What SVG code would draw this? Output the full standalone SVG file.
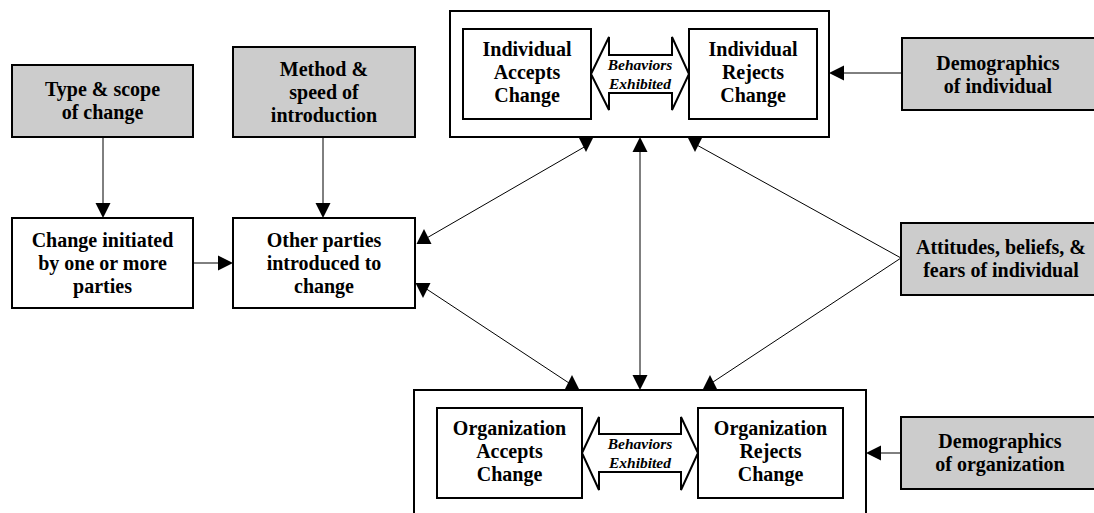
<svg xmlns="http://www.w3.org/2000/svg" xmlns:xlink="http://www.w3.org/1999/xlink" width="1094" height="513" viewBox="0 0 1094 513">
<style>
.box{fill:#ffffff;stroke:#000;stroke-width:2}
.gbox{fill:#cccccc;stroke:#000;stroke-width:2}
.dbl{fill:#ffffff;stroke:#000;stroke-width:2;stroke-linejoin:miter}
.t{font-family:"Liberation Serif","Times New Roman",serif;font-weight:bold;font-size:20px;text-anchor:middle;fill:#000}
.it{font-family:"Liberation Serif","Times New Roman",serif;font-weight:bold;font-style:italic;font-size:15.5px;text-anchor:middle;fill:#000}
.ln{stroke:#000;stroke-width:1;fill:none}
.ah{fill:#000;stroke:none}
</style>
<defs>
<polygon id="ad" class="ah" points="0,0 -7.5,-15 7.5,-15"/>
<polygon id="au" class="ah" points="0,0 -7.5,15 7.5,15"/>
<polygon id="ar" class="ah" points="0,0 -15,-7.5 -15,7.5"/>
<polygon id="al" class="ah" points="0,0 15,-7.5 15,7.5"/>
</defs>
<rect width="1094" height="513" fill="#ffffff"/>

<g id="connectors">
<line class="ln" x1="103" y1="137" x2="103" y2="204"/>
<use xlink:href="#ad" x="103" y="218"/>
<line class="ln" x1="323" y1="137" x2="323" y2="204"/>
<use xlink:href="#ad" x="323" y="218"/>
<line class="ln" x1="193" y1="263" x2="219" y2="263"/>
<use xlink:href="#ar" x="233" y="263"/>
<line class="ln" x1="844" y1="73" x2="902" y2="73"/>
<use xlink:href="#al" x="829" y="73"/>
<line class="ln" x1="881" y1="453" x2="902" y2="453"/>
<use xlink:href="#al" x="866" y="453"/>
<line class="ln" x1="640" y1="150" x2="640" y2="377"/>
<use xlink:href="#au" x="640" y="137"/>
<use xlink:href="#ad" x="640" y="390"/>
<line class="ln" x1="425" y1="239" x2="586" y2="146"/>
<use xlink:href="#ad" x="586" y="152"/>
<use xlink:href="#au" x="424" y="229"/>
<line class="ln" x1="425" y1="288" x2="572" y2="385"/>
<use xlink:href="#ad" x="423" y="298"/>
<use xlink:href="#au" x="572" y="375"/>
<line class="ln" x1="901" y1="258" x2="695" y2="144"/>
<use xlink:href="#ad" x="695" y="152"/>
<line class="ln" x1="901" y1="258" x2="710" y2="384"/>
<use xlink:href="#au" x="710" y="375"/>
</g>

<g id="type-scope">
<rect class="gbox" x="12" y="65" width="181" height="72"/>
<text class="t" x="102.5" y="96">Type &amp; scope</text>
<text class="t" x="102.5" y="119">of change</text>
</g>
<g id="method-speed">
<rect class="gbox" x="233" y="47" width="182" height="90"/>
<text class="t" x="324" y="76">Method &amp;</text>
<text class="t" x="324" y="99">speed of</text>
<text class="t" x="324" y="122">introduction</text>
</g>
<g id="change-initiated">
<rect class="box" x="12" y="218" width="181" height="90"/>
<text class="t" x="102.5" y="247">Change initiated</text>
<text class="t" x="102.5" y="270">by one or more</text>
<text class="t" x="102.5" y="293">parties</text>
</g>
<g id="other-parties">
<rect class="box" x="233" y="218" width="182" height="90"/>
<text class="t" x="324" y="247">Other parties</text>
<text class="t" x="324" y="270">introduced to</text>
<text class="t" x="324" y="293">change</text>
</g>

<g id="individual">
<rect class="box" x="450" y="11" width="379" height="126"/>
<g id="individual-accepts">
<rect class="box" x="463" y="29" width="128" height="90"/>
<text class="t" x="527" y="56">Individual</text>
<text class="t" x="527" y="79">Accepts</text>
<text class="t" x="527" y="102">Change</text>
</g>
<g id="individual-behaviors">
<polygon class="dbl" points="591,74 609,37 609,55 672,55 672,37 689,74 672,110 672,93 609,93 609,110"/>
<text class="it" x="640" y="70">Behaviors</text>
<text class="it" x="640" y="89">Exhibited</text>
</g>
<g id="individual-rejects">
<rect class="box" x="689" y="29" width="128" height="90"/>
<text class="t" x="753" y="56">Individual</text>
<text class="t" x="753" y="79">Rejects</text>
<text class="t" x="753" y="102">Change</text>
</g>
</g>

<g id="organization">
<rect class="box" x="414" y="390" width="452" height="140"/>
<g id="organization-accepts">
<rect class="box" x="437" y="408" width="145" height="90"/>
<text class="t" x="509.5" y="435">Organization</text>
<text class="t" x="509.5" y="458">Accepts</text>
<text class="t" x="509.5" y="481">Change</text>
</g>
<g id="organization-behaviors">
<polygon class="dbl" points="582,453 599,417 599,434 681,434 681,417 698,453 681,490 681,472 599,472 599,490"/>
<text class="it" x="640" y="449">Behaviors</text>
<text class="it" x="640" y="468">Exhibited</text>
</g>
<g id="organization-rejects">
<rect class="box" x="698" y="408" width="145" height="90"/>
<text class="t" x="770.5" y="435">Organization</text>
<text class="t" x="770.5" y="458">Rejects</text>
<text class="t" x="770.5" y="481">Change</text>
</g>
</g>

<g id="demographics-individual">
<rect class="gbox" x="902" y="38" width="200" height="72"/>
<text class="t" x="998" y="70">Demographics</text>
<text class="t" x="998" y="93">of individual</text>
</g>
<g id="attitudes">
<rect class="gbox" x="901" y="223" width="200" height="72"/>
<text class="t" x="1001" y="254">Attitudes, beliefs, &amp;</text>
<text class="t" x="1001" y="277">fears of individual</text>
</g>
<g id="demographics-organization">
<rect class="gbox" x="901" y="417" width="200" height="72"/>
<text class="t" x="1000" y="448">Demographics</text>
<text class="t" x="1000" y="471">of organization</text>
</g>
</svg>
